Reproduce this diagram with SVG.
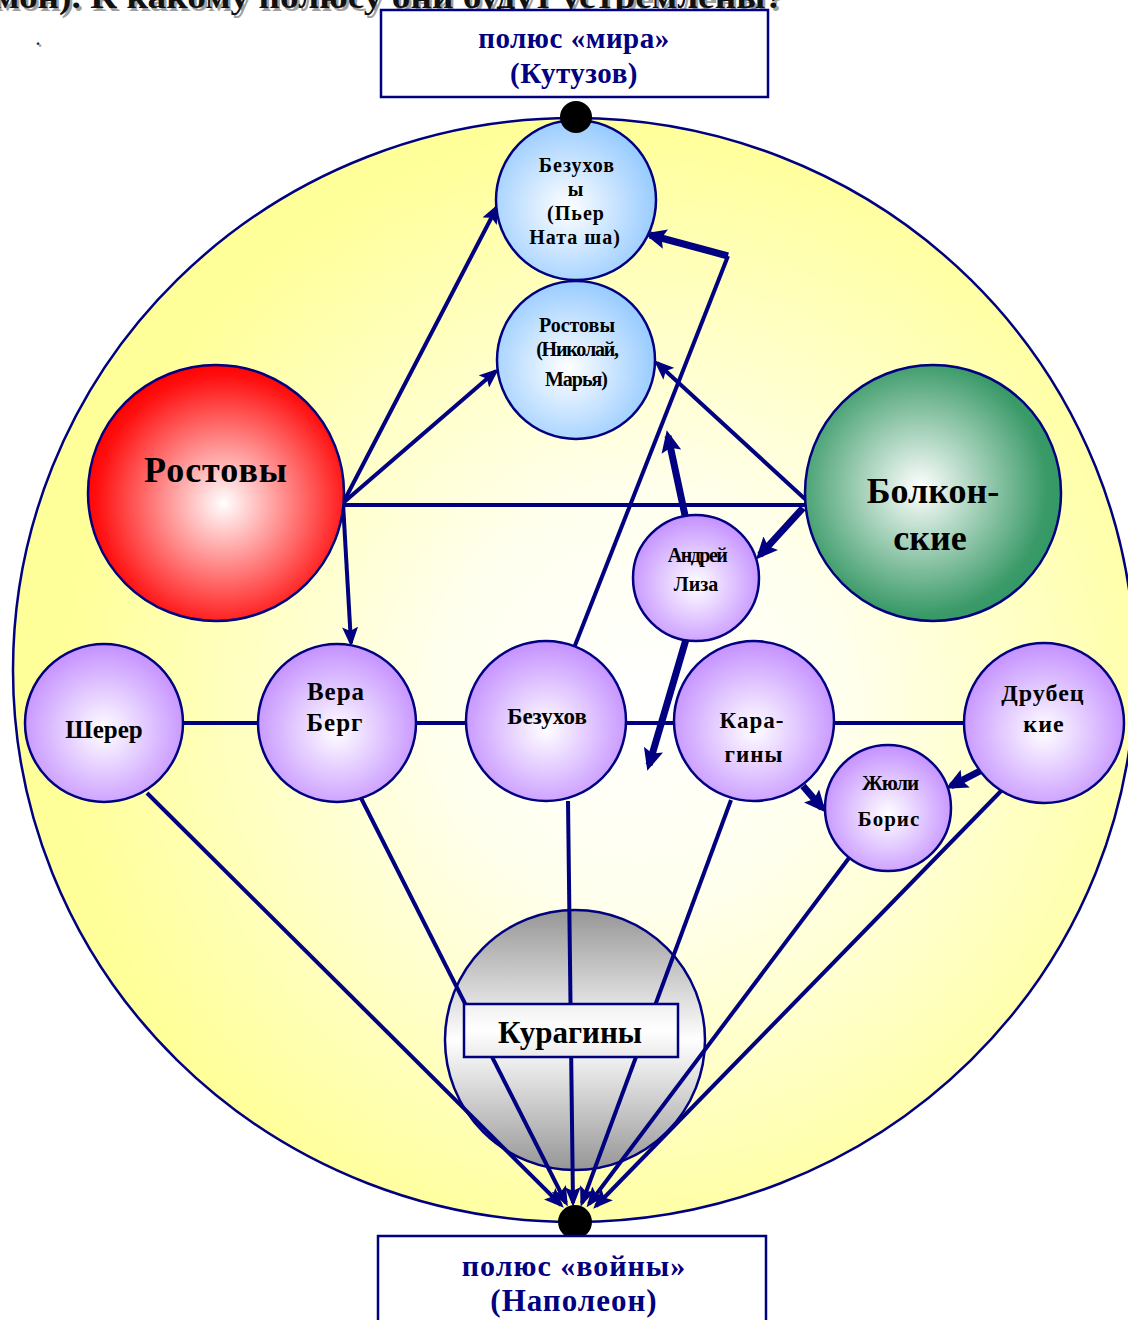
<svg xmlns="http://www.w3.org/2000/svg" width="1128" height="1320" viewBox="0 0 1128 1320">
<style>
.t{font-family:"Liberation Serif","Times New Roman",serif;font-weight:bold;text-anchor:middle;fill:#000}
.pole{font-family:"Liberation Serif","Times New Roman",serif;font-weight:bold;text-anchor:middle;fill:#000080}
.node{stroke:#000080;stroke-width:2.5}
.c{stroke:#000080;stroke-width:4;fill:none}
.a{stroke:#000080;stroke-width:4;fill:none;marker-end:url(#ah)}
.ta{stroke:#000080;stroke-width:7;fill:none;marker-end:url(#ahb)}
.box{fill:#fff;stroke:#000080;stroke-width:2.5}
</style>
<defs>
<marker id="ah" viewBox="0 0 20 16" refX="16" refY="8" markerWidth="20" markerHeight="16" markerUnits="userSpaceOnUse" orient="auto">
<path d="M0,0 L20,8 L0,16 L4,8 z" fill="#000080"/>
</marker>
<marker id="ahb" viewBox="0 0 22 20" refX="16" refY="10" markerWidth="22" markerHeight="20" markerUnits="userSpaceOnUse" orient="auto">
<path d="M0,0 L22,10 L0,20 L4,10 z" fill="#000080"/>
</marker>
<radialGradient id="gY" gradientUnits="userSpaceOnUse" cx="640" cy="700" r="580">
<stop offset="0" stop-color="#FFFFFF"/>
<stop offset="0.35" stop-color="#FFFFEE"/>
<stop offset="1" stop-color="#FFFF99"/>
</radialGradient>
<radialGradient id="gB" cx="0.45" cy="0.55" r="0.55">
<stop offset="0" stop-color="#FFFFFF"/>
<stop offset="1" stop-color="#99CCFF"/>
</radialGradient>
<radialGradient id="gR" cx="0.53" cy="0.54" r="0.55">
<stop offset="0" stop-color="#FFFFFF"/>
<stop offset="0.9" stop-color="#FF1010"/>
<stop offset="1" stop-color="#FF0000"/>
</radialGradient>
<radialGradient id="gG" cx="0.45" cy="0.48" r="0.55">
<stop offset="0" stop-color="#FFFFFF"/>
<stop offset="0.9" stop-color="#3A9A68"/>
<stop offset="1" stop-color="#339966"/>
</radialGradient>
<radialGradient id="gP" cx="0.5" cy="0.55" r="0.55">
<stop offset="0" stop-color="#FFFFFF"/>
<stop offset="1" stop-color="#C490FF"/>
</radialGradient>
<linearGradient id="gK" x1="0" y1="0" x2="0" y2="1">
<stop offset="0" stop-color="#969696"/>
<stop offset="0.5" stop-color="#FFFFFF"/>
<stop offset="1" stop-color="#969696"/>
</linearGradient>
<linearGradient id="gKb" x1="0" y1="0" x2="0" y2="1">
<stop offset="0" stop-color="#F0F0F0"/>
<stop offset="0.5" stop-color="#FFFFFF"/>
<stop offset="1" stop-color="#EAEAEA"/>
</linearGradient>
</defs>

<g id="header">
<text x="-6" y="8" font-family="Liberation Serif, serif" font-weight="bold" font-size="34" fill="#A0A0A0" transform="translate(2.5,2.5)" textLength="790" lengthAdjust="spacingAndGlyphs">мон). К какому полюсу они будут устремлены?</text>
<text x="-6" y="8" font-family="Liberation Serif, serif" font-weight="bold" font-size="34" fill="#111" textLength="790" lengthAdjust="spacingAndGlyphs">мон). К какому полюсу они будут устремлены?</text>
<text x="38" y="47" font-family="Liberation Serif, serif" font-weight="bold" font-size="16" fill="#A0A0A0">.</text>
<text x="36" y="45" font-family="Liberation Serif, serif" font-weight="bold" font-size="16" fill="#222">.</text>
</g>

<g id="field">
<ellipse cx="574" cy="670" rx="561" ry="552" fill="url(#gY)" stroke="#000080" stroke-width="2.5"/>
</g>

<g id="node-kuragin">
<circle cx="575" cy="1040" r="130" fill="url(#gK)" class="node"/>
</g>

<g id="connectors">
<line x1="343" y1="505" x2="805" y2="505" class="c"/>
<line x1="184" y1="723" x2="964" y2="723" class="c"/>
<line x1="343" y1="503" x2="497" y2="207" class="a"/>
<line x1="343" y1="503" x2="496" y2="371" class="a"/>
<line x1="343" y1="503" x2="351" y2="643" class="a"/>
<line x1="805" y1="499" x2="657" y2="363" class="a"/>
<line x1="803" y1="508" x2="760" y2="555" class="ta"/>
<line x1="686" y1="520" x2="668" y2="436" class="ta" stroke-width="6"/>
<line x1="687" y1="636" x2="649" y2="765" class="ta" stroke-width="6"/>
<polyline points="574,648 728,256" class="c"/>
<line x1="728" y1="256" x2="650" y2="235" class="ta"/>
<line x1="803" y1="786" x2="822" y2="808" class="ta"/>
<line x1="982" y1="770" x2="951" y2="786" class="ta" stroke-width="6"/>
<line x1="147" y1="793" x2="561" y2="1205" class="a"/>
<line x1="361" y1="798" x2="566" y2="1203" class="a"/>
<line x1="568" y1="801" x2="573" y2="1203" class="a"/>
<line x1="731" y1="800" x2="582" y2="1203" class="a"/>
<line x1="849" y1="858" x2="589" y2="1204" class="a"/>
<line x1="1002" y1="790" x2="596" y2="1206" class="a"/>
</g>

<g id="node-bezukhovy-pier">
<circle cx="576" cy="200" r="80" fill="url(#gB)" class="node"/>
<text class="t" font-size="20" letter-spacing="1"><tspan x="577" y="172">Безухов</tspan><tspan x="576" y="196">ы</tspan><tspan x="576" y="220">(Пьер</tspan><tspan x="575" y="244">Ната ша)</tspan></text>
</g>

<g id="node-rostovy-nikolai">
<circle cx="576" cy="360" r="79" fill="url(#gB)" class="node"/>
<text class="t" font-size="20"><tspan x="577" y="332">Ростовы</tspan><tspan x="577" y="356" letter-spacing="-1.2">(Николай,</tspan><tspan x="576" y="386" letter-spacing="-1">Марья)</tspan></text>
</g>

<g id="node-rostovy">
<circle cx="216" cy="493" r="128" fill="url(#gR)" class="node"/>
<text x="216" y="482" class="t" font-size="36" letter-spacing="1">Ростовы</text>
</g>

<g id="node-bolkonskie">
<circle cx="933" cy="493" r="128" fill="url(#gG)" class="node"/>
<text class="t" font-size="36"><tspan x="933" y="503">Болкон-</tspan><tspan x="930" y="550">ские</tspan></text>
</g>

<g id="node-andrei">
<circle cx="696" cy="578" r="63" fill="url(#gP)" class="node"/>
<text class="t" font-size="20"><tspan x="697" y="562" letter-spacing="-1.5">Андрей</tspan><tspan x="696" y="591">Лиза</tspan></text>
</g>

<g id="node-sherer">
<circle cx="104" cy="723" r="79" fill="url(#gP)" class="node"/>
<text x="104" y="738" class="t" font-size="25">Шерер</text>
</g>

<g id="node-vera">
<circle cx="337" cy="723" r="79" fill="url(#gP)" class="node"/>
<text class="t" font-size="25" letter-spacing="1"><tspan x="336" y="700">Вера</tspan><tspan x="335" y="731">Берг</tspan></text>
</g>

<g id="node-bezukhov">
<circle cx="546" cy="721" r="80" fill="url(#gP)" class="node"/>
<text x="547" y="724" class="t" font-size="23">Безухов</text>
</g>

<g id="node-karagin">
<circle cx="754" cy="721" r="80" fill="url(#gP)" class="node"/>
<text class="t" font-size="23" letter-spacing="1"><tspan x="752" y="728">Кара-</tspan><tspan x="754" y="762">гины</tspan></text>
</g>

<g id="node-drubetskie">
<circle cx="1044" cy="723" r="80" fill="url(#gP)" class="node"/>
<text class="t" font-size="24" letter-spacing="1"><tspan x="1043" y="701">Друбец</tspan><tspan x="1044" y="732">кие</tspan></text>
</g>

<g id="node-julie">
<circle cx="888" cy="808" r="63" fill="url(#gP)" class="node"/>
<text class="t" font-size="21"><tspan x="890" y="790" letter-spacing="-1">Жюли</tspan><tspan x="889" y="826" letter-spacing="1">Борис</tspan></text>
</g>

<g id="label-kuragin">
<rect x="464" y="1004" width="214" height="53" fill="url(#gKb)" stroke="#000080" stroke-width="2.5"/>
<text x="570" y="1043" class="t" font-size="31">Курагины</text>
</g>

<g id="pole-peace">
<rect x="381" y="10" width="387" height="87" class="box"/>
<text x="574" y="48" class="pole" font-size="29" letter-spacing="0.5">полюс «мира»</text>
<text x="574" y="83" class="pole" font-size="29" letter-spacing="0.5">(Кутузов)</text>
<circle cx="576" cy="117" r="16" fill="#000"/>
</g>

<g id="pole-war">
<circle cx="575" cy="1222" r="17" fill="#000"/>
<rect x="378" y="1236" width="388" height="100" class="box"/>
<text x="574" y="1276" class="pole" font-size="30" letter-spacing="1">полюс «войны»</text>
<text x="574" y="1311" class="pole" font-size="31" letter-spacing="1">(Наполеон)</text>
</g>
</svg>
